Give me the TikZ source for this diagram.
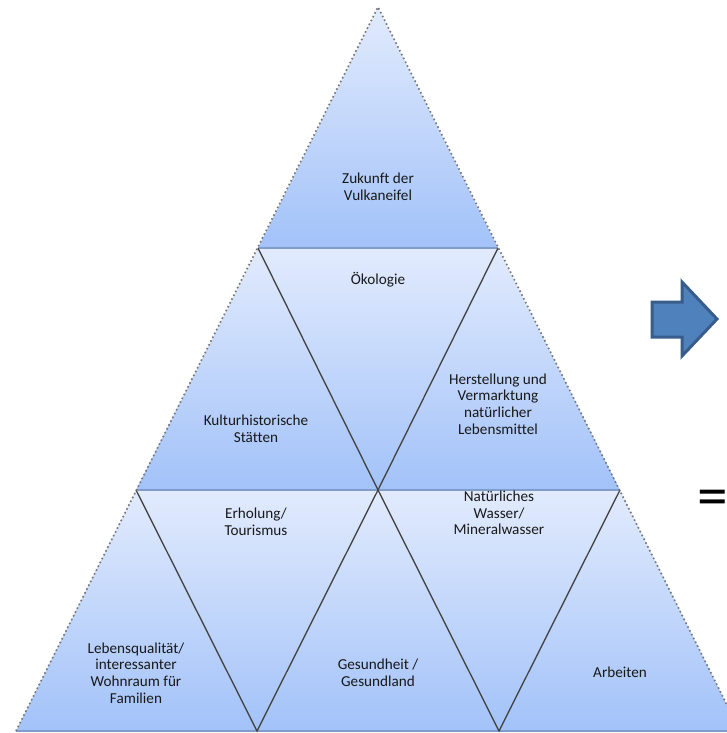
\documentclass[tikz,border=0pt]{standalone}
\usepackage{fontspec}
\setmainfont{Carlito}[Ligatures=NoCommon]
\definecolor{rowlight}{HTML}{E2EBFD}
\definecolor{rowdark}{HTML}{A2C2F9}
\definecolor{rimgray}{HTML}{777777}
\definecolor{seamgray}{HTML}{444444}
\definecolor{bandblue}{HTML}{7F9CCB}
\definecolor{arrowfill}{HTML}{4F81BD}
\definecolor{arrowrim}{HTML}{385D8A}
\tikzset{
  label/.style={align=center, inner sep=1pt, text=black!90,
    font=\fontsize{11.4}{12.4}\selectfont},
  rowshade/.style={top color=rowlight, bottom color=rowdark, draw=none},
  seam/.style={draw=seamgray, line width=1pt},
  band/.style={draw=bandblue, line width=1.2pt},
  rim/.style={draw=rimgray, line width=1.2pt, dotted}
}
\begin{document}
\begin{tikzpicture}[x=0.75pt, y=-0.75pt]

            \useasboundingbox (0,0) rectangle (727,733);
            \clip (0,0) rectangle (727,733);

            % Corners
            \coordinate (apex) at (378,7);
            \coordinate (l1) at (258,248);
            \coordinate (r1) at (498,248);
            \coordinate (l2) at (136,490);
            \coordinate (m2) at (378,490);
            \coordinate (r2) at (620,490);
            \coordinate (b0) at (16,731);
            \coordinate (b1) at (257,731);
            \coordinate (b2) at (499,731);
            \coordinate (b3) at (740,731);

            % Rows
            \shade[rowshade] (apex) -- (r1) -- (l1) -- cycle;
            \shade[rowshade] (l1) -- (r1) -- (r2) -- (l2) -- cycle;
            \shade[rowshade] (l2) -- (r2) -- (b3) -- (b0) -- cycle;

            % Seams
            \draw[band] (l1) -- (r1);
            \draw[band] (l2) -- (r2);
            \draw[band] (b0) -- (b3);
            \draw[seam] (l1) -- (m2) -- (r1);
            \draw[seam] (l2) -- (b1) -- (m2) -- (b2) -- (r2);
            \draw[rim] (b0) -- (apex) -- (b3);

            % Labels
            \node[label] (zukunft) at (378,187) {Zukunft der\\Vulkaneifel};
            \node[label] (oekologie) at (378,280) {Ökologie};
            \node[label] (kultur) at (256,429) {Kulturhistorische\\Stätten};
            \node[label] (herstellung) at (498,404) {Herstellung und\\Vermarktung\\natürlicher\\Lebensmittel};
            \node[label] (erholung) at (256,522) {Erholung/\\Tourismus};
            \node[label] (wasser) at (499,513) {Natürliches\\Wasser/\\Mineralwasser};
            \node[label] (leben) at (136,673) {Lebensqualität/\\interessanter\\Wohnraum für\\Familien};
            \node[label] (gesundheit) at (378,673) {Gesundheit /\\Gesundland};
            \node[label] (arbeiten) at (620,672) {Arbeiten};

            % Arrow and sign
            \draw[fill=arrowfill, draw=arrowrim, line width=2.25pt, line join=miter]
              (652,302) -- (682,302) -- (682,282) -- (717,319) -- (682,356)
              -- (682,337) -- (652,337) -- cycle;
            \node[inner sep=0pt, font=\fontsize{46}{46}\selectfont] (gleich) at (713,503) {=};

          \end{tikzpicture}
\end{document}
